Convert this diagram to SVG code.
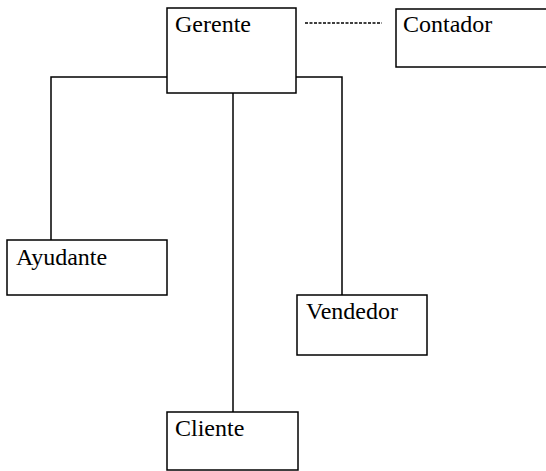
<svg xmlns="http://www.w3.org/2000/svg" width="546" height="471" viewBox="0 0 546 471">
<style>
.box{fill:#fff;stroke:#000;stroke-width:1.5}
.lbl{font-family:"Liberation Serif","Times New Roman",serif;font-size:24px;fill:#000}
.conn{fill:none;stroke:#000;stroke-width:1.5}
.dash{fill:none;stroke:#000;stroke-width:1.5;stroke-dasharray:3 1.5}
</style>
<rect width="546" height="471" fill="#fff"/>
<g id="connectors">
<polyline class="conn" points="167,77 51,77 51,240"/>
<polyline class="conn" points="296,77 342,77 342,295"/>
<line class="conn" x1="233" y1="93" x2="233" y2="412"/>
<line class="dash" x1="305" y1="23" x2="382" y2="23"/>
</g>
<g id="gerente">
<rect class="box" x="167" y="8" width="129" height="85"/>
<text class="lbl" x="175" y="32">Gerente</text>
</g>
<g id="contador">
<rect class="box" x="396" y="9" width="160" height="58"/>
<text class="lbl" x="403" y="32">Contador</text>
</g>
<g id="ayudante">
<rect class="box" x="7" y="240" width="160" height="55"/>
<text class="lbl" x="16" y="265">Ayudante</text>
</g>
<g id="vendedor">
<rect class="box" x="297" y="295" width="130" height="60"/>
<text class="lbl" x="306" y="319">Vendedor</text>
</g>
<g id="cliente">
<rect class="box" x="167" y="412" width="131" height="58"/>
<text class="lbl" x="175" y="436">Cliente</text>
</g>
</svg>
